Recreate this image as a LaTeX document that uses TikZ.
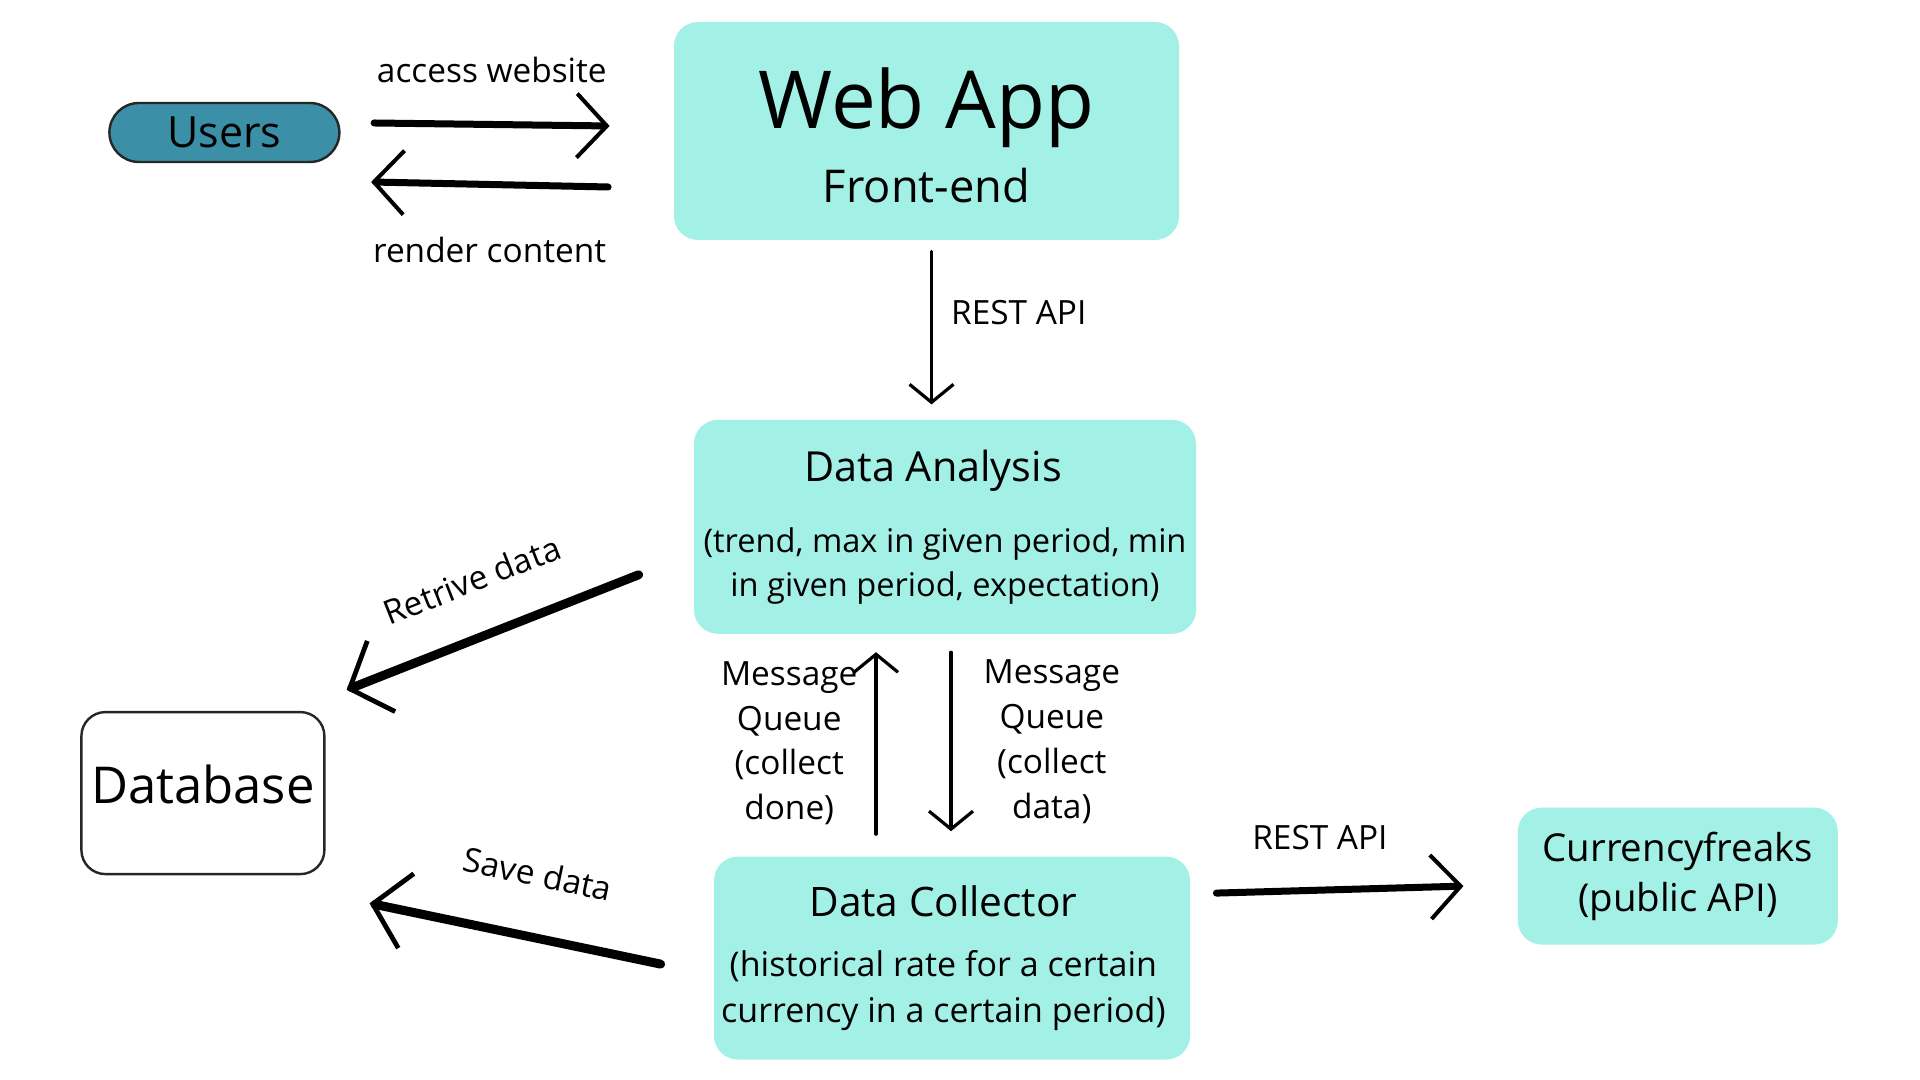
\documentclass[tikz,border=0pt]{standalone}
\usepackage{fontspec}
\setmainfont{Open Sans}
\usetikzlibrary{arrows.meta}
\usetikzlibrary{positioning}
\definecolor{boxfill}{HTML}{A3F0E6}
\definecolor{usersfill}{HTML}{3B8FA7}

\begin{document}
\begin{tikzpicture}[
    node distance=5mm,
    block/.style={fill=boxfill, rounded corners=12pt, align=center, inner sep=0pt},
    pill/.style={draw=black!85, line width=1.2pt, fill=usersfill, rounded corners=14.75pt, minimum width=115pt, minimum height=29.5pt, inner sep=0pt, font=\fontsize{21.5}{24}\selectfont},
    store/.style={draw=black!85, line width=1.2pt, fill=white, rounded corners=12pt, minimum width=121.5pt, minimum height=81pt, inner sep=0pt, text depth=8.7pt, font=\fontsize{25.4}{28}\selectfont},
    txt/.style={font=\fontsize{16.7}{22.4}\selectfont, align=center, inner sep=0pt},
    arrow/.style={line width=1.6pt, line cap=round, -{Straight Barb[length=9pt, width=22pt, line width=1.6pt]}},
    midarrow/.style={line width=3.5pt, line cap=round, -{Straight Barb[length=15pt, width=32pt, line width=2pt]}},
    bigarrow/.style={line width=4.5pt, line cap=round, -{Straight Barb[length=17pt, width=38pt, line width=2.4pt]}},
  ]
  \useasboundingbox (0,0) rectangle (960pt,540pt);

  \node[block, minimum width=252.5pt, minimum height=109pt, font=\fontsize{22.6}{28}\selectfont] (webapp) at (463.25pt,474.5pt)
    {\fontsize{40}{28}\selectfont\rule{0pt}{35pt}Web App\\[9.2pt]Front-end};
  \node[pill, left=166.5pt of webapp, yshift=-0.75pt] (users) {Users};
  \node[block, below=89.5pt of webapp, xshift=9.25pt, minimum width=251pt, minimum height=107pt, font=\fontsize{16.3}{22}\selectfont] (analysis)
    {\fontsize{20.7}{22}\selectfont Data Analysis\rule{12pt}{0pt}\\[13.5pt](trend, max in given period, min\\ in given period, expectation)};
  \node[block, below=111pt of analysis, xshift=3.5pt, minimum width=238pt, minimum height=101.5pt, font=\fontsize{17}{23}\selectfont] (collector)
    {\fontsize{20.3}{23}\selectfont Data Collector\rule{8.6pt}{0pt}\\[7.25pt](historical rate for a certain\rule{8.6pt}{0pt}\\ currency in a certain period)\rule{8.6pt}{0pt}};
  \node[block, right=163.5pt of collector, yshift=41pt, minimum width=160pt, minimum height=68.5pt, font=\fontsize{19.2}{25}\selectfont] (freaks)
    {Currencyfreaks\\ (public API)};
  \node[store, left=194pt of collector, yshift=82.5pt] (database) {Database};

  \draw[midarrow] ([xshift=16.75pt,yshift=4.75pt]users.east) -- ([xshift=-32pt,yshift=2.5pt]webapp.west)
    node[txt, midway, above=19pt] {access website};
  \draw[midarrow] ([xshift=-32.75pt,yshift=-28pt]webapp.west) -- ([xshift=15.25pt,yshift=-24.75pt]users.east)
    node[txt, midway, below=24.5pt] {render content};
  \draw[arrow] ([xshift=2.5pt,yshift=-5.5pt]webapp.south) -- ([xshift=2.5pt,yshift=7.5pt]webapp.south|-analysis.north)
    node[txt, pos=0.4, right=9pt] {REST API};
  \draw[arrow] ([xshift=-38pt,yshift=11pt]collector.north) -- ([xshift=-34.5pt,yshift=-9pt]analysis.south)
    node[txt, midway, left=8.5pt] {Message\\ Queue\\ (collect\\ done)};
  \draw[arrow] ([xshift=3pt,yshift=-9pt]analysis.south) -- ([xshift=-0.5pt,yshift=12.5pt]collector.north)
    node[txt, midway, right=15.5pt] {Message\\ Queue\\ (collect\\ data)};
  \draw[midarrow] ([xshift=13pt,yshift=32.5pt]collector.east) -- ([xshift=-27pt,yshift=-5pt]freaks.west)
    node[txt, midway, above=18pt, xshift=-10pt] {REST API};
  \draw[bigarrow] ([xshift=-27.5pt,yshift=-24pt]analysis.west) -- ([xshift=10.5pt,yshift=10.5pt]database.north east)
    node[txt, midway, sloped, above=19.5pt] {Retrive data};
  \draw[bigarrow] ([xshift=-26.5pt,yshift=-3pt]collector.west) -- ([xshift=22pt,yshift=-14pt]database.south east)
    node[txt, pos=0.466, sloped, above=23pt] {Save data};
\end{tikzpicture}
\end{document}
